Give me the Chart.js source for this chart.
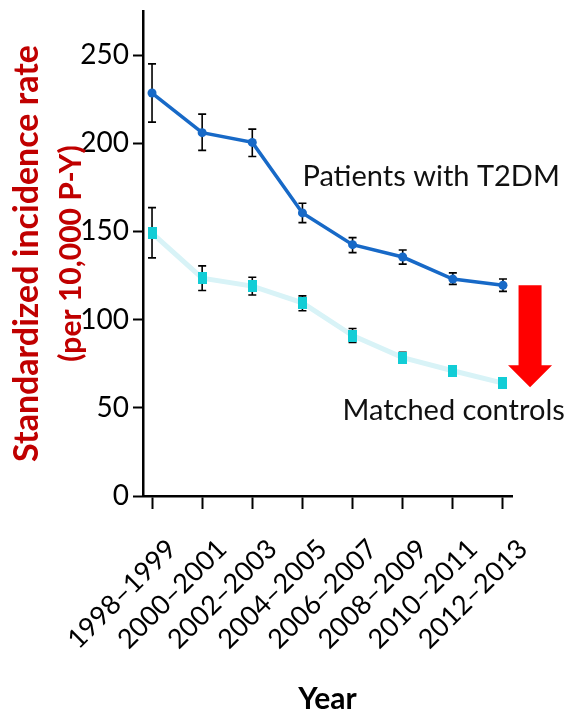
<!DOCTYPE html>
<html>
<head>
<meta charset="utf-8">
<title>Standardized incidence rate by year</title>
<script src="https://cdn.jsdelivr.net/npm/chart.js@4.4.1/dist/chart.umd.min.js"></script>
<style>
  html, body { margin: 0; padding: 0; background: #ffffff; }
  #wrap { width: 573px; height: 717px; }
</style>
</head>
<body>
<div id="wrap"><canvas id="chart" width="573" height="717"></canvas></div>
<script>
// Calendar periods on the x axis
const periods = ['1998–1999', '2000–2001', '2002–2003', '2004–2005',
                 '2006–2007', '2008–2009', '2010–2011', '2012–2013'];

// Patients with T2DM: rate per 10,000 person-years and its 95% CI
const t2dmRate  = [228.5, 206.0, 200.5, 160.5, 142.5, 135.5, 123.0, 119.5];
const t2dmLower = [212.0, 196.0, 192.5, 155.0, 138.0, 131.5, 120.0, 116.0];
const t2dmUpper = [245.0, 216.5, 208.0, 166.0, 146.5, 139.5, 126.5, 123.0];

// Matched controls: rate per 10,000 person-years and its 95% CI
const controlRate  = [149.0, 123.5, 119.0, 109.5, 91.0, 78.5, 71.0, 64.0];
const controlLower = [135.0, 116.5, 114.0, 105.0, 87.0, 75.5, 69.0, 62.0];
const controlUpper = [163.5, 130.5, 124.0, 113.5, 95.0, 81.5, 73.0, 66.0];

// Y axis tick values
const yTickValues = [0, 50, 100, 150, 200, 250];

// Axis title lines
const yTitleLines = ['Standardized incidence rate', '(per 10,000 P-Y)'];

const FONT = 'Lato, "Open Sans", "Liberation Sans", sans-serif';
Chart.defaults.font.family = FONT;
Chart.defaults.color = '#000000';

// Square marker used for the control series
const squareMarker = document.createElement('canvas');
squareMarker.width = 9;
squareMarker.height = 12;
(function () {
  const g = squareMarker.getContext('2d');
  g.fillStyle = '#12cdd6';
  g.fillRect(0, 0, 9, 12);
})();

const toPoints = arr => arr.map((v, i) => ({ x: i, y: v }));

// Vertical confidence-interval whiskers, drawn beneath lines and markers
const errorBars = {
  id: 'errorBars',
  beforeDatasetsDraw(chart) {
    const { ctx, scales: { x, y } } = chart;
    ctx.save();
    ctx.strokeStyle = '#000000';
    ctx.lineWidth = 1.6;
    chart.data.datasets.forEach(ds => {
      ds.ciLower.forEach((lo, i) => {
        const px = x.getPixelForValue(i);
        const yLo = y.getPixelForValue(lo);
        const yHi = y.getPixelForValue(ds.ciUpper[i]);
        ctx.beginPath();
        ctx.moveTo(px, yLo); ctx.lineTo(px, yHi);
        ctx.moveTo(px - 4, yLo); ctx.lineTo(px + 4, yLo);
        ctx.moveTo(px - 4, yHi); ctx.lineTo(px + 4, yHi);
        ctx.stroke();
      });
    });
    ctx.restore();
  }
};

// Two-line rotated y-axis title in dark red
const yAxisTitle = {
  id: 'yAxisTitle',
  afterDraw(chart) {
    const { ctx, chartArea } = chart;
    const cy = (chartArea.top + chartArea.bottom) / 2;
    const lines = [
      { text: yTitleLines[0], baseX: 38, size: 34 },
      { text: yTitleLines[1], baseX: 81, size: 30 }
    ];
    ctx.save();
    ctx.fillStyle = '#c00000';
    ctx.textAlign = 'center';
    ctx.textBaseline = 'alphabetic';
    lines.forEach(l => {
      ctx.save();
      ctx.translate(l.baseX, cy);
      ctx.rotate(-Math.PI / 2);
      ctx.font = 'bold ' + l.size + 'px ' + FONT;
      ctx.fillText(l.text, 0, 0);
      ctx.restore();
    });
    ctx.restore();
  }
};

// Series captions and the red arrow showing the gap in the last period
const captions = [
  { text: 'Patients with T2DM', x: 3, y: 176 },
  { text: 'Matched controls',   x: 3.8, y: 43 }
];

const annotations = {
  id: 'annotations',
  afterDraw(chart) {
    const { ctx, scales: { x, y } } = chart;
    ctx.save();
    ctx.fillStyle = '#111111';
    ctx.font = '29px ' + FONT;
    ctx.textAlign = 'left';
    ctx.textBaseline = 'alphabetic';
    captions.forEach(c => {
      ctx.fillText(c.text, x.getPixelForValue(c.x), y.getPixelForValue(c.y));
    });

    // Arrow from the final T2DM rate down to the final control rate
    const last = periods.length - 1;
    const ax = x.getPixelForValue(last + 0.54);
    const top = y.getPixelForValue(t2dmRate[last]);
    const tip = y.getPixelForValue(controlRate[last]) + 4;
    const shaftHalf = 11.5, headHalf = 22, headLen = 22;
    ctx.fillStyle = '#ff0000';
    ctx.beginPath();
    ctx.moveTo(ax - shaftHalf, top);
    ctx.lineTo(ax + shaftHalf, top);
    ctx.lineTo(ax + shaftHalf, tip - headLen);
    ctx.lineTo(ax + headHalf, tip - headLen);
    ctx.lineTo(ax, tip);
    ctx.lineTo(ax - headHalf, tip - headLen);
    ctx.lineTo(ax - shaftHalf, tip - headLen);
    ctx.closePath();
    ctx.fill();
    ctx.restore();
  }
};

new Chart(document.getElementById('chart'), {
  type: 'line',
  data: {
    datasets: [
      {
        label: 'Matched controls',
        data: toPoints(controlRate),
        ciLower: controlLower,
        ciUpper: controlUpper,
        borderColor: '#d8f3f7',
        borderWidth: 5,
        pointStyle: squareMarker,
        pointRadius: 6,
        pointHoverRadius: 6,
        tension: 0
      },
      {
        label: 'Patients with T2DM',
        data: toPoints(t2dmRate),
        ciLower: t2dmLower,
        ciUpper: t2dmUpper,
        borderColor: '#1769c7',
        borderWidth: 3.5,
        pointStyle: 'circle',
        pointRadius: 4.5,
        pointHoverRadius: 4.5,
        pointBackgroundColor: '#1769c7',
        pointBorderWidth: 0,
        tension: 0
      }
    ]
  },
  options: {
    responsive: false,
    animation: false,
    events: [],
    layout: { padding: { left: 0, top: 10, right: 61, bottom: 0 } },
    plugins: {
      legend: { display: false },
      tooltip: { enabled: false }
    },
    scales: {
      x: {
        type: 'linear',
        min: -0.18,
        max: periods.length - 1 + 0.18,
        afterBuildTicks(scale) {
          scale.ticks = periods.map((_, i) => ({ value: i }));
        },
        afterFit(scale) { scale.height = 221; },
        border: { display: true, color: '#000000', width: 2.5 },
        grid: {
          display: true,
          drawOnChartArea: false,
          drawTicks: true,
          tickLength: 13,
          tickColor: '#000000',
          tickWidth: 2
        },
        ticks: {
          autoSkip: false,
          minRotation: 45,
          maxRotation: 45,
          padding: 24,
          labelOffset: 20,
          font: { size: 27 },
          color: '#000000',
          callback: v => periods[v]
        },
        title: {
          display: true,
          text: 'Year',
          font: { size: 30, weight: 'bold' },
          color: '#000000',
          padding: { top: 0, bottom: 0 }
        }
      },
      y: {
        type: 'linear',
        min: 0,
        max: 275,
        afterBuildTicks(scale) {
          scale.ticks = yTickValues.map(v => ({ value: v }));
        },
        afterFit(scale) {
          scale.width = 143;
          scale.paddingTop = 0;
          scale.paddingBottom = 0;
        },
        border: { display: true, color: '#000000', width: 2.5 },
        grid: {
          display: true,
          drawOnChartArea: false,
          drawTicks: true,
          tickLength: 10,
          tickColor: '#000000',
          tickWidth: 2
        },
        ticks: {
          padding: 4,
          font: { size: 28 },
          color: '#000000'
        },
        title: { display: false }
      }
    }
  },
  plugins: [errorBars, yAxisTitle, annotations]
});
</script>
</body>
</html>
